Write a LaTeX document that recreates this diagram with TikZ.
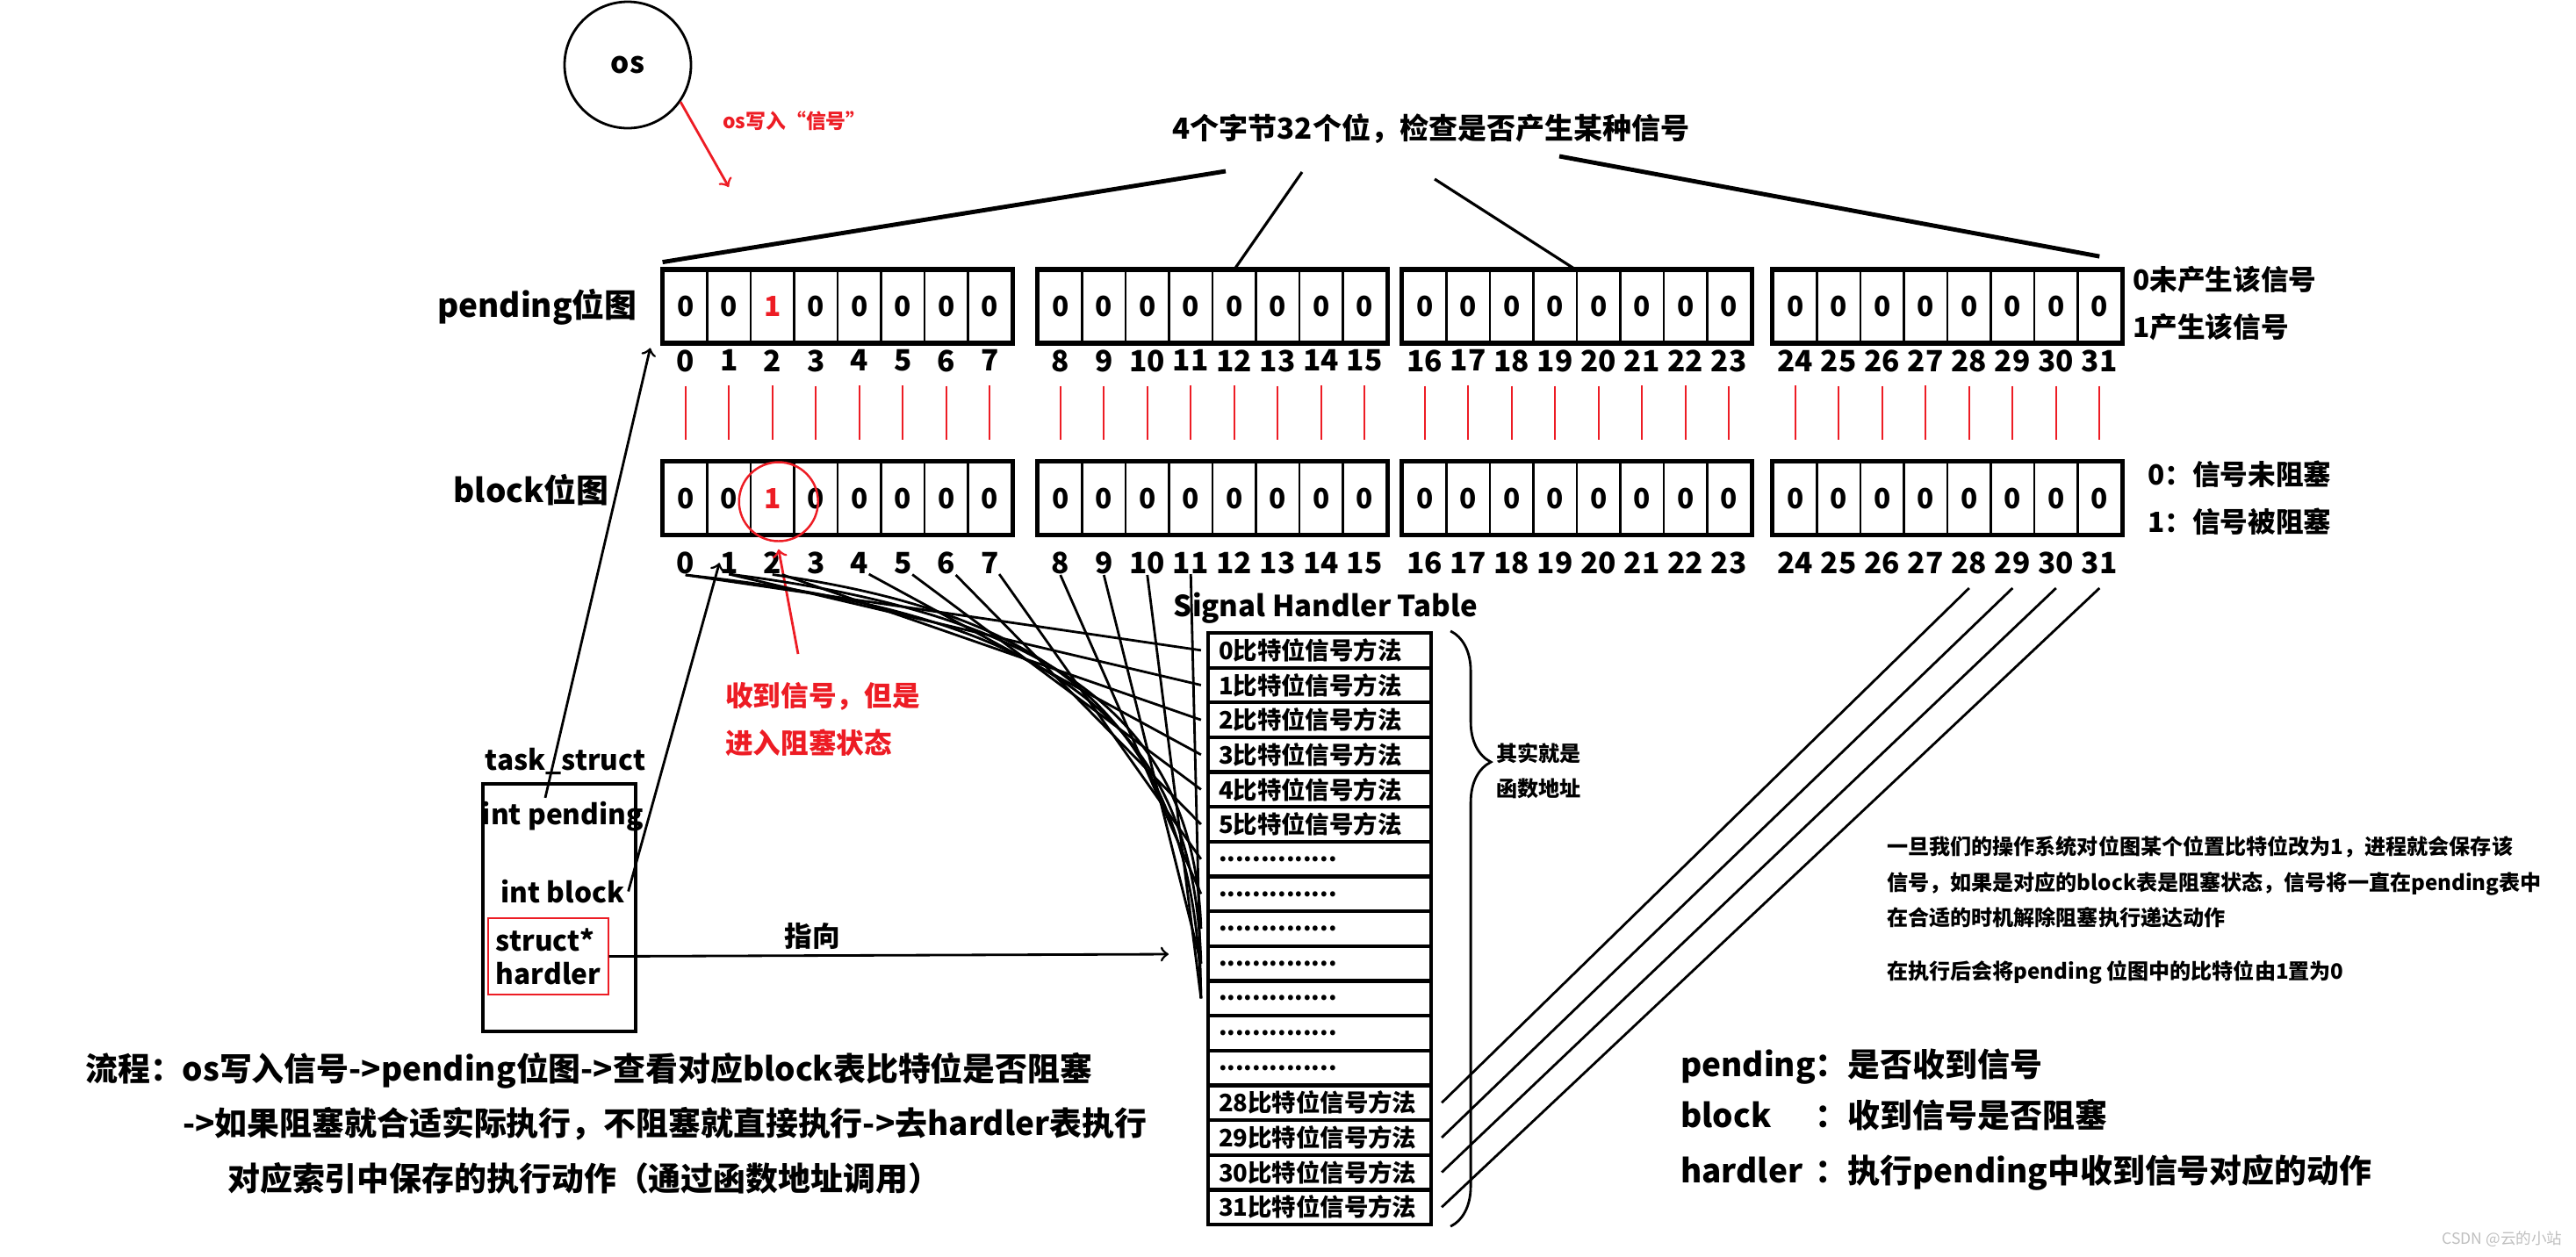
\documentclass[tikz,border=0pt]{standalone}
\usepackage{fontspec}
\setmainfont{Noto Sans CJK SC}
\usepackage{tikz}
\usetikzlibrary{positioning, calc, decorations.pathreplacing}
\definecolor{paintred}{RGB}{237,28,36}
\def\dotsrow{..............}

\begin{document}
\begin{tikzpicture}[font=\bfseries,
    cell/.style={draw, line width=0.8pt, minimum width=0.495cm, minimum height=0.81cm,
        inner sep=0pt, font=\bfseries\fontsize{9}{11}\selectfont},
    grp/.style={line width=1.6pt},
    bitnum/.style={inner sep=0pt, font=\bfseries\fontsize{9.5}{11}\selectfont},
    redtie/.style={draw=paintred, line width=0.6pt},
    headtxt/.style={inner sep=1pt, font=\bfseries\fontsize{9.4}{11}\selectfont},
    bigtxt/.style={inner sep=1pt, font=\bfseries\fontsize{10.5}{13}\selectfont},
    midtxt/.style={inner sep=1pt, align=left, font=\bfseries\fontsize{9}{15.3}\selectfont},
    smalltxt/.style={inner sep=1pt, align=left, font=\bfseries\fontsize{6.85}{11.5}\selectfont},
    slot/.style={draw, line width=1.2pt, minimum width=2.54cm, minimum height=0.3965cm,
        text width=2.3cm, inner xsep=0.12cm, inner ysep=0pt, align=left,
        font=\bfseries\fontsize{7.8}{9}\selectfont},
    wire/.style={line width=0.8pt},
    topline/.style={line width=1.4pt},
    arrow/.style={->, line width=0.8pt},
    redarrow/.style={->, draw=paintred, line width=0.8pt},
    fnbrace/.style={decorate, decoration={brace, amplitude=0.46cm, aspect=0.22}, line width=0.8pt}
]
\useasboundingbox (0,0) rectangle (29.34,-14.31);
% os and the signal it writes
\node[draw, circle, minimum size=1.44cm, inner sep=0pt, line width=0.8pt,
    font=\bfseries\fontsize{9.5}{11}\selectfont] (os) at (7.15,-0.74) {os};
\node[inner sep=1pt, text=paintred, font=\bfseries\fontsize{6.5}{8}\selectfont] (oslbl) at (9.05,-1.38) {os写入“信号”};
\coordinate (osin) at (8.30,-2.13);
\draw[redarrow] (os.-35) -- (osin);
% heading over the bitmaps
\node[headtxt] (head) at (16.30,-1.47) {4个字节32个位，检查是否产生某种信号};
\coordinate (h1) at (13.96,-1.95);
\coordinate (h2) at (14.83,-1.96);
\coordinate (h3) at (16.34,-2.04);
\coordinate (h4) at (17.76,-1.78);
% row labels
\node[bigtxt] (pendlbl) at (6.12,-3.50) {pending位图};
\node[bigtxt] (blklbl) at (6.05,-5.58) {block位图};
% pending and block bitmaps
\foreach \g/\gx in {0/7.56,1/11.83,2/15.98,3/20.20}{
  \foreach \k in {0,...,7}{
    \pgfmathtruncatemacro{\n}{8*\g+\k}
    \ifnum\n=2 \def\bitval{\textcolor{paintred}{1}}\else\def\bitval{0}\fi
    \node[cell] (p\n) at ({\gx+0.2475+0.495*\k},-3.49) {\bitval};
    \node[cell] (b\n) at ({\gx+0.2475+0.495*\k},-5.675) {\bitval};
    \node[bitnum, below=0.07 of p\n] (pn\n) {\n};
    \node[bitnum, below=0.19 of b\n] (bn\n) {\n};
    \draw[redtie] ([yshift=-0.15cm]pn\n.south) -- ([yshift=0.25cm]b\n.north);
  }
  \pgfmathtruncatemacro{\gfirst}{8*\g}
  \pgfmathtruncatemacro{\glast}{8*\g+7}
  \draw[grp] (p\gfirst.north west) rectangle (p\glast.south east);
  \draw[grp] (b\gfirst.north west) rectangle (b\glast.south east);
}
\draw[topline] (h1) -- ([yshift=0.085cm]p0.north west);
\draw[line width=0.9pt] (h2) -- (p12.north);
\draw[line width=0.9pt] (h3) -- (p20.north west);
\draw[topline] (h4) -- ([yshift=0.15cm]p31.north);
% meaning of the bits
\node[midtxt, anchor=west, font=\bfseries\fontsize{9}{15.6}\selectfont] (pnote) at (24.25,-3.455) {0未产生该信号\\1产生该信号};
\node[midtxt, anchor=west] (bnote) at (24.42,-5.675) {0：信号未阻塞\\1：信号被阻塞};
% blocked signal
\node[draw=paintred, circle, minimum size=0.9cm, line width=0.7pt] (hit) at ($(b2)+(0.07,-0.04)$) {};
\node[midtxt, anchor=west, text=paintred] (hitlbl) at (8.22,-8.195) {收到信号，但是\\进入阻塞状态};
\coordinate (hitfrom) at (9.09,-7.45);
\draw[redarrow] (hitfrom) -- ([yshift=-0.08cm]hit.south);
% task_struct
\node[draw, line width=0.9pt, minimum width=1.74cm, minimum height=2.82cm] (task) at (6.37,-10.34) {};
\node[midtxt] (tasklbl) at (6.44,-8.67) {task\_struct};
\node[midtxt] (ip) at (6.41,-9.30) {int pending};
\node[midtxt] (ib) at (6.41,-10.155) {int block};
\node[draw=paintred, line width=0.4pt, minimum width=1.37cm, minimum height=0.87cm, inner sep=1pt,
    align=left, font=\bfseries\fontsize{9}{10.8}\selectfont] (hp) at (6.245,-10.895) {struct*\\hardler};
\draw[arrow] ([xshift=-0.2cm]ip.north) -- ([xshift=-0.14cm,yshift=-0.055cm]p0.south west);
\draw[arrow] (ib.east) -- (bn1.west);
\coordinate (hpto) at (13.31,-10.87);
\draw[arrow] (hp.east) -- (hpto);
\node[midtxt] (ptr) at (9.25,-10.66) {指向};
% signal handler table
\node[headtxt] (tabhead) at (15.10,-6.93) {Signal Handler Table};
\foreach \i/\t in {0/0比特位信号方法,1/1比特位信号方法,2/2比特位信号方法,3/3比特位信号方法,
    4/4比特位信号方法,5/5比特位信号方法,6/\dotsrow,7/\dotsrow,8/\dotsrow,9/\dotsrow,
    10/\dotsrow,11/\dotsrow,12/\dotsrow,13/28比特位信号方法,14/29比特位信号方法,
    15/30比特位信号方法,16/31比特位信号方法}
  \node[slot] (r\i) at (15.03,{-7.408-0.3965*\i}) {\t};
\draw[fnbrace] ([xshift=0.2cm]r0.north east) -- ([xshift=0.2cm]r16.south east);
\node[smalltxt, anchor=west] (fnaddr) at (17.00,-8.78) {其实就是\\函数地址};
% block bits to table entries
\foreach \b/\a/\r in {0/south/0,1/south/1,2/south east/2,4/south east/3,5/south east/4,
    6/south east/5,7/south east/6,8/south/7,9/south/9,10/south/10,11/south/10}
  \draw[wire] (bn\b.\a) -- ([xshift=-0.06cm]r\r.west);
\foreach \b/\r in {0/9,1/8,2/10}
  \draw[wire] (bn\b.south) .. controls (12.0,-7.0) and (13.6,-8.2) .. ([xshift=-0.06cm]r\r.west);
\foreach \b/\r in {28/13,29/14,30/15,31/16}
  \draw[wire] ([yshift=-0.15cm]bn\b.south) -- ([xshift=0.1cm]r\r.east);
% notes on the right
\node[smalltxt, anchor=west] (para) at (21.45,-10.05) {一旦我们的操作系统对位图某个位置比特位改为1，进程就会保存该\\信号，如果是对应的block表是阻塞状态，信号将一直在pending表中\\在合适的时机解除阻塞执行递达动作};
\node[smalltxt, anchor=west] (para2) at (21.45,-11.08) {在执行后会将pending 位图中的比特位由1置为0};
\node[bigtxt, anchor=west] (lg1) at (19.10,-12.15) {pending：是否收到信号};
\node[bigtxt, anchor=west] (lg2) at (19.10,-12.73) {\rlap{block}\phantom{pending}：收到信号是否阻塞};
\node[bigtxt, anchor=west] (lg3) at (19.10,-13.36) {\rlap{hardler}\phantom{pending}：执行pending中收到信号对应的动作};
% flow
\node[bigtxt, anchor=west] (flow1) at (0.93,-12.20) {流程：os写入信号->pending位图->查看对应block表比特位是否阻塞};
\node[bigtxt, anchor=west] (flow2) at (2.04,-12.80) {->如果阻塞就合适实际执行，不阻塞就直接执行->去hardler表执行};
\node[bigtxt, anchor=west] (flow3) at (2.55,-13.42) {对应索引中保存的执行动作（通过函数地址调用）};
\node[inner sep=1pt, text=black!25, font=\fontsize{5}{6}\selectfont] (mark) at (28.50,-14.12) {CSDN @云的小站};
\end{tikzpicture}
\end{document}
